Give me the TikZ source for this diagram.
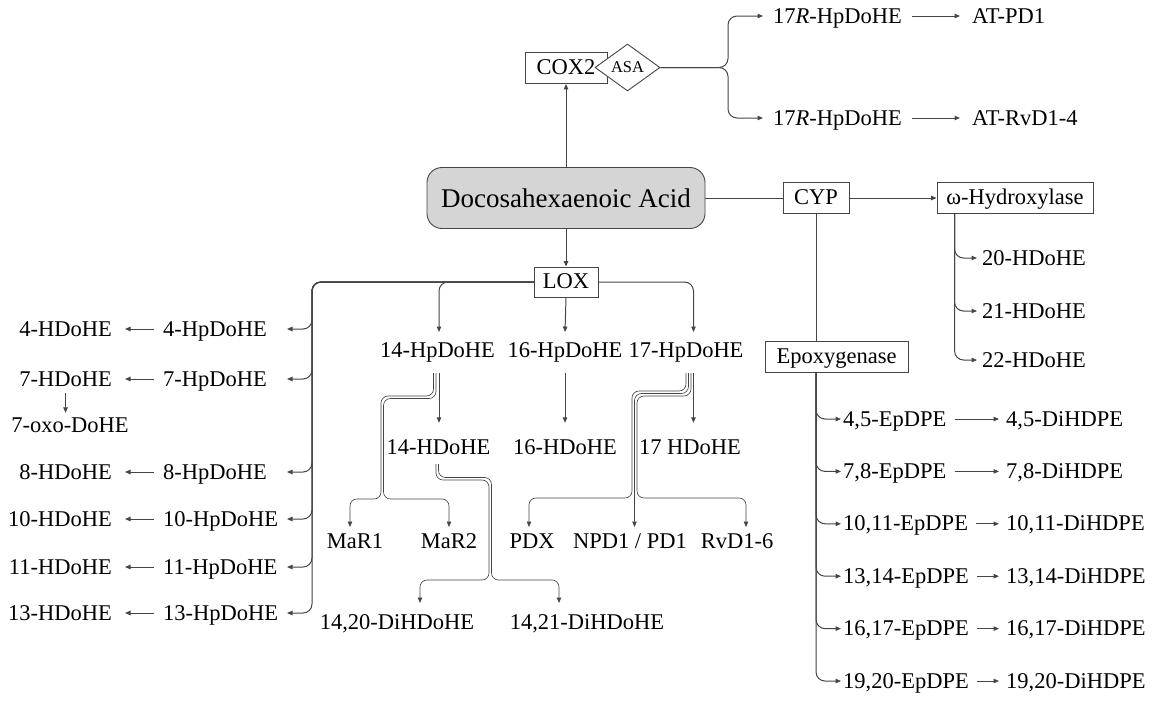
\documentclass[tikz,border=0pt]{standalone}
\usepackage{fontspec}
\setmainfont{Liberation Serif}
\usetikzlibrary{arrows.meta,shapes.geometric,calc}
\definecolor{ln}{HTML}{454545}
\definecolor{dhafill}{HTML}{D5D5D5}

\begin{document}
\begin{tikzpicture}[x=1pt,y=-1pt,
  txt/.style={inner sep=0pt, text height=14pt, text depth=0pt, font=\fontsize{22.5}{26}\selectfont},
  boxnode/.style={draw=ln, line width=0.9pt, inner sep=0pt, minimum height=31pt,
    text height=16pt, text depth=3pt, font=\fontsize{22.5}{26}\selectfont},
  dhabox/.style={draw=ln, line width=0.9pt, fill=dhafill, rounded corners=15pt, inner sep=0pt,
    minimum width=278pt, minimum height=61pt, text height=19pt, text depth=0pt,
    font=\fontsize{27}{31}\selectfont},
  asabox/.style={diamond, draw=ln, fill=white, line width=0.9pt, inner sep=0pt,
    minimum width=65pt, minimum height=47pt, font=\fontsize{16.5}{19}\selectfont},
  link/.style={draw=ln, line width=1pt},
  arr/.style={link, -{Triangle[length=5.5pt,width=4.5pt]}},
  fork/.style={link, rounded corners=9pt},
  forkarr/.style={arr, rounded corners=9pt},
  strand/.style={draw=ln, line width=0.65pt, rounded corners=7pt},
  strandarr/.style={strand, -{Triangle[length=5.5pt,width=4.5pt]}},
]
\useasboundingbox (0,0) rectangle (1161,702);

% ---------- central compound ----------
\node[dhabox] (dha) at (566,198) {Docosahexaenoic Acid};

% ---------- COX2 / aspirin route ----------
\node[boxnode, minimum width=82pt] (cox) at (566,68) {COX2};
\node[asabox] (asa) at (627.5,67.5) {ASA};
\node[txt, anchor=west] (r1) at (773,16) {17\textit{R}-HpDoHE};
\node[txt, anchor=west] (r2) at (773,118) {17\textit{R}-HpDoHE};
\node[txt, anchor=west] (atpd) at (972,16) {AT-PD1};
\node[txt, anchor=west] (atrv) at (972,118) {AT-RvD1-4};
\coordinate (asafork) at (728,67.5);

\draw[arr] (dha.north) -- (cox.south);
\draw[forkarr, shorten >=10pt] (asa.east) -- (asafork) |- (r1.west);
\draw[forkarr, shorten >=10pt] (asa.east) -- (asafork) |- (r2.west);
\draw[arr, shorten <=10pt, shorten >=12pt] (r1.east) -- (atpd.west);
\draw[arr, shorten <=10pt, shorten >=12pt] (r2.east) -- (atrv.west);

% ---------- CYP route ----------
\node[boxnode, minimum width=66pt] (cyp) at (816,198) {CYP};
\node[boxnode, minimum width=156pt] (omega) at (1015,198) {ω-Hydroxylase};
\node[boxnode, minimum width=143pt] (epox) at (836.5,356.5) {Epoxygenase};

\draw[link] (dha.east) -- (cyp.west);
\draw[arr] (cyp.east) -- (omega.west);
\draw[link] (cyp.south) -- (cyp.south |- epox.north);

% omega-hydroxylase products
\node[txt, anchor=west] (h20) at (982,258) {20-HDoHE};
\node[txt, anchor=west] (h21) at (982,311) {21-HDoHE};
\node[txt, anchor=west] (h22) at (982,360) {22-HDoHE};
\coordinate (ohook) at ([xshift=18pt]omega.south west);
\foreach \n in {h20,h21,h22}
  \draw[forkarr, shorten >=5pt] (ohook) |- (\n.west);

% epoxygenase products
\coordinate (ehook) at (cyp.south |- epox.south);
\foreach \a/\b/\y [count=\i] in {4/5/419, 7/8/471.4, 10/11/523.8,
                                 13/14/576.2, 16/17/628.6, 19/20/681}{
  \node[txt, anchor=west] (ep\i) at (843,\y) {\a,\b-EpDPE};
  \node[txt, anchor=west] (di\i) at (1006,\y) {\a,\b-DiHDPE};
  \draw[forkarr, shorten >=2pt] (ehook) |- (ep\i.west);
  \draw[arr, shorten <=8pt, shorten >=7pt] (ep\i.east) -- (di\i.west);
}

% ---------- LOX route ----------
\node[boxnode, minimum width=64pt, minimum height=30pt] (lox) at (566,282) {LOX};
\draw[arr] (dha.south) -- (lox.north);

% left column: hydroperoxides and their alcohols
\coordinate (lbend) at (312,282);
\foreach \k/\y in {4/329, 7/379, 8/472, 10/519, 11/567, 13/613}{
  \node[txt, anchor=west] (hp\k) at (163,\y) {\k-HpDoHE};
  \node[txt, anchor=east] (h\k) at (112,\y) {\k-HDoHE};
  \draw[forkarr] (lox.west) -- (lbend) |- ([xshift=124pt]hp\k.west);
  \draw[arr, shorten <=9pt, shorten >=13pt] (hp\k.west) -- (h\k.east);
}
\node[txt] (oxo) at (70,425) {7-oxo-DoHE};
\draw[arr, shorten <=7pt, shorten >=5pt] (h7.south) -- (h7.south |- oxo.north);

% central column
\node[txt] (hp14) at (437.5,350) {14-HpDoHE};
\node[txt] (hp16) at (565,350) {16-HpDoHE};
\node[txt] (hp17) at (686,350) {17-HpDoHE};
\node[txt] (h14) at (438.5,447) {14-HDoHE};
\node[txt] (h16) at (565,447) {16-HDoHE};
\node[txt] (h17) at (690,447) {17 HDoHE};

\coordinate (t14) at (439,332);
\coordinate (t16) at (565,332);
\coordinate (t17) at (693.5,332);
\draw[forkarr] (lox.west) -| (t14);
\draw[arr] (lox.south) -- (t16);
\draw[forkarr] (lox.east) -| (t17);

\draw[arr, shorten <=16pt, shorten >=17pt] (hp14.south -| t14) -- (h14.north -| t14);
\draw[arr, shorten <=16pt, shorten >=17pt] (hp16.south) -- (h16.north);
\draw[arr, shorten <=16pt, shorten >=17pt] (hp17.south -| t17) -- (h17.north -| t17);

% mediators
\node[txt] (mar1) at (355,541) {MaR1};
\node[txt] (mar2) at (449,541) {MaR2};
\node[txt] (pdx) at (532,541) {PDX};
\node[txt] (npd) at (630,541) {NPD1 / PD1};
\node[txt] (rvd) at (737,541) {RvD1-6};
\node[txt] (di20) at (397,622) {14,20-DiHDoHE};
\node[txt] (di21) at (587,622) {14,21-DiHDoHE};

\coordinate (tmar1) at (350,527);
\coordinate (tmar2) at (449,527);
\coordinate (tpdx) at (529,527);
\coordinate (tnpd) at (634.5,527);
\coordinate (trvd) at (746,527);
\coordinate (tdi20) at (420,603);
\coordinate (tdi21) at (559,603);

% 14-HpDoHE -> maresins (paired strands)
\draw[strandarr] ($(hp14.south)+(-4,16)$) -- (433.5,396) -- (381,396) -- (381,499) -- (350,499) -- (tmar1);
\draw[strandarr] ($(hp14.south)+(-1.5,16)$) -- (436,398.5) -- (383.5,398.5) -- (383.5,499) -- (449,499) -- (tmar2);

% 14-HDoHE -> dihydroxy products (paired strands)
\draw[strandarr] ($(h14.south)+(-2.5,10)$) -- (436,480) -- (489,480) -- (489,580) -- (420,580) -- (tdi20);
\draw[strandarr] ($(h14.south)+(0,10)$) -- (438.5,477.5) -- (491.5,477.5) -- (491.5,580) -- (559,580) -- (tdi21);

% 17-HpDoHE -> protectins / resolvins (triple strands)
\draw[strandarr] ($(hp17.south)+(0,16)$) -- (686,391) -- (632,391) -- (632,498) -- (529,498) -- (tpdx);
\draw[strandarr] ($(hp17.south)+(2.5,16)$) -- (688.5,393.5) -- (634.5,393.5) -- (tnpd);
\draw[strandarr] ($(hp17.south)+(5,16)$) -- (691,396) -- (637,396) -- (637,498) -- (746,498) -- (trvd);

\end{tikzpicture}
\end{document}
